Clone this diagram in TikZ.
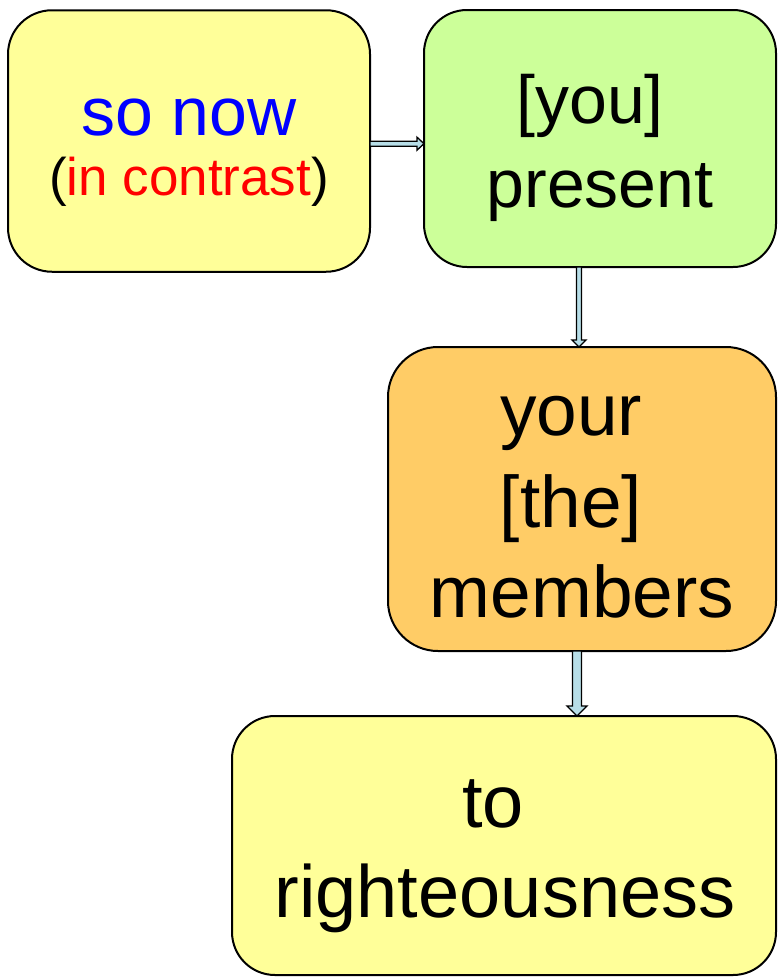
\documentclass[tikz,border=0pt]{standalone}
\usepackage{fontspec}
\setmainfont{Liberation Sans}
\usetikzlibrary{calc}
\definecolor{boxyellow}{HTML}{FFFF99}
\definecolor{boxgreen}{HTML}{CCFF99}
\definecolor{boxorange}{HTML}{FFCC66}
\definecolor{arrowblue}{HTML}{B7DEE8}
\tikzset{
  box/.style={draw=black, line width=2pt, rounded corners=#1, inner sep=0pt, outer sep=0pt},
  box/.default=43pt,
  lbl/.style={anchor=base, inner sep=0pt, outer sep=0pt},
  fsa/.style={font=\fontsize{68}{80}\selectfont},
  fsb/.style={font=\fontsize{53}{62}\selectfont},
  fsc/.style={font=\fontsize{73}{88}\selectfont},
  fsd/.style={font=\fontsize{74}{88}\selectfont},
  barrow/.style={draw=black, line width=1.3pt, fill=arrowblue, line join=miter}
}
\newcommand\hblockarrow[5]{%
  \draw[barrow] ($(#1)+(0,-#3)$) -- ($(#2)+(-#5,-#3)$) -- ($(#2)+(-#5,-#4)$) -- (#2)
    -- ($(#2)+(-#5,#4)$) -- ($(#2)+(-#5,#3)$) -- ($(#1)+(0,#3)$) -- cycle;}
\newcommand\vblockarrow[5]{%
  \draw[barrow] ($(#1)+(-#3,0)$) -- ($(#2)+(-#3,-#5)$) -- ($(#2)+(-#4,-#5)$) -- (#2)
    -- ($(#2)+(#4,-#5)$) -- ($(#2)+(#3,-#5)$) -- ($(#1)+(#3,0)$) -- cycle;}
\begin{document}
\begin{tikzpicture}[x=1pt, y=-1pt]
\useasboundingbox (0,0) rectangle (779,980);
% boxes
\node[box=44pt, fill=boxyellow, minimum width=362pt, minimum height=261.5pt] (b1) at (189,141) {};
\node[box=43pt, fill=boxgreen, minimum width=352pt, minimum height=257pt] (b2) at (600,138.5) {};
\node[box=50pt, fill=boxorange, minimum width=388pt, minimum height=304pt] (b3) at (582,499) {};
\node[box=43pt, fill=boxyellow, minimum width=544pt, minimum height=259pt] (b4) at (504,845.5) {};
% texts
\node[lbl, fsa, text=blue] (t1a) at (189,135) {so now};
\node[lbl, fsb] (t1b) at (189,195) {(\textcolor{red}{in contrast})};
\node[lbl, fsa] (t2a) at (590,123) {[you]};
\node[lbl, fsa] (t2b) at (600,207) {present};
\node[lbl, fsc] (t3a) at (571,435) {your};
\node[lbl, fsc] (t3b) at (571,527) {[the]};
\node[lbl, fsc] (t3c) at (582,617) {members};
\node[lbl, fsd] (t4a) at (493,827) {to};
\node[lbl, fsd] (t4b) at (505,917) {righteousness};
% connectors
\coordinate (a1s) at ($(b1.east)+(0,2.7)$);
\coordinate (a1e) at (b2.west |- a1s);
\coordinate (a2s) at ($(b2.south)+(-21,0)$);
\coordinate (a2e) at (a2s |- b3.north);
\coordinate (a3s) at ($(b3.south)+(-5,0)$);
\coordinate (a3e) at (a3s |- b4.north);
\hblockarrow{a1s}{a1e}{2.5}{6.5}{7}
\vblockarrow{a2s}{a2e}{2.5}{7}{7}
\vblockarrow{a3s}{a3e}{4.5}{10}{10}
\end{tikzpicture}
\end{document}
